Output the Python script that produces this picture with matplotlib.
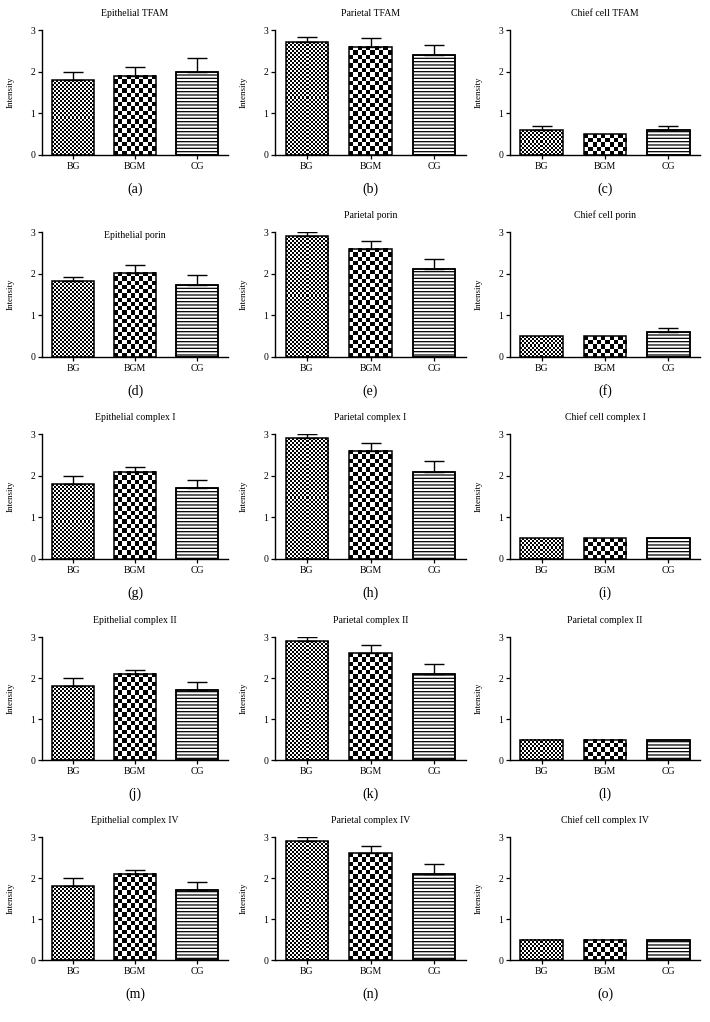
import numpy as np
import matplotlib
matplotlib.use("Agg")
import matplotlib.pyplot as plt

plt.rcParams['font.family'] = ['Liberation Serif', 'DejaVu Serif']
plt.rcParams['hatch.linewidth'] = 0.9

# ---------------- data ----------------
groups = ["BG", "BGM", "CG"]
titles = [
    "Epithelial TFAM", "Parietal TFAM", "Chief cell TFAM",
    "Epithelial porin", "Parietal porin", "Chief cell porin",
    "Epithelial complex I", "Parietal complex I", "Chief cell complex I",
    "Epithelial complex II", "Parietal complex II", "Parietal complex II",
    "Epithelial complex IV", "Parietal complex IV", "Chief cell complex IV",
]
captions = ["(a)", "(b)", "(c)", "(d)", "(e)", "(f)", "(g)", "(h)", "(i)",
            "(j)", "(k)", "(l)", "(m)", "(n)", "(o)"]
means = [
    [1.8, 1.9, 2.0], [2.7, 2.6, 2.4], [0.6, 0.5, 0.6],
    [1.82, 2.02, 1.72], [2.9, 2.6, 2.1], [0.5, 0.5, 0.6],
    [1.8, 2.1, 1.7], [2.9, 2.6, 2.1], [0.5, 0.5, 0.5],
    [1.8, 2.1, 1.7], [2.9, 2.6, 2.1], [0.5, 0.5, 0.5],
    [1.8, 2.1, 1.7], [2.9, 2.6, 2.1], [0.5, 0.5, 0.5],
]
errors = [
    [0.2, 0.2, 0.32], [0.13, 0.2, 0.25], [0.1, 0.0, 0.1],
    [0.1, 0.18, 0.24], [0.1, 0.19, 0.25], [0.0, 0.0, 0.1],
    [0.2, 0.1, 0.2], [0.1, 0.19, 0.25], [0.0, 0.0, 0.0],
    [0.2, 0.1, 0.2], [0.1, 0.2, 0.25], [0.0, 0.0, 0.0],
    [0.2, 0.1, 0.2], [0.1, 0.19, 0.25], [0.0, 0.0, 0.0],
]
yticks = [0, 1, 2, 3]

# ---------------- layout (pixels) ----------------
W, H = 710, 1022
fig = plt.figure(figsize=(W / 100, H / 100), dpi=100)
cols_x = [(42, 228), (275, 466), (510, 700)]
rows_y = [(30, 155), (232, 357), (434, 559), (637, 760), (837, 960)]

# fill style per group: checker cell size in px (None = hatch)
checker_px = [2.0, 4.3, None]


def checker_fill(ax, bar, cell):
    x0, w, h = bar.get_x(), bar.get_width(), bar.get_height()
    if h <= 0:
        return
    p0 = ax.transData.transform((x0, 0))
    p1 = ax.transData.transform((x0 + w, h))
    nx = max(1, int(round((p1[0] - p0[0]) / cell)))
    ny = max(1, int(round((p1[1] - p0[1]) / cell)))
    iy, ix = np.indices((ny, nx))
    board = ((ix + iy) % 2).astype(float)
    ax.imshow(board, extent=[x0, x0 + w, 0, h], origin='lower',
              cmap='gray', vmin=0, vmax=1, interpolation='nearest',
              aspect='auto', zorder=1.5)


for i in range(15):
    r, c = divmod(i, 3)
    xl, xr = cols_x[c]
    yt, yb = rows_y[r]
    ax = fig.add_axes([xl / W, (H - yb) / H, (xr - xl) / W, (yb - yt) / H])
    ax.set_xlim(-0.5, 2.5)
    ax.set_ylim(0, 3)
    x = np.arange(len(groups))
    bars = ax.bar(x, means[i], width=0.67, facecolor='none',
                  edgecolor='black', linewidth=1.1, zorder=2)
    for j, b in enumerate(bars):
        if checker_px[j] is not None:
            checker_fill(ax, b, checker_px[j])
        else:
            b.set_facecolor('white')
            b.set_hatch('-----')
            b.set_zorder(1.6)
            ax.bar(b.get_x() + b.get_width() / 2, b.get_height(),
                   width=b.get_width(), facecolor='none',
                   edgecolor='black', linewidth=1.1, zorder=2)
    err = np.array(errors[i])
    m = np.array(means[i])
    sel = err > 0
    if sel.any():
        ax.errorbar(x[sel], m[sel],
                    yerr=[np.zeros(sel.sum()), err[sel]], fmt='none',
                    ecolor='black', elinewidth=1.0, capsize=7.5,
                    capthick=1.0, zorder=3)
    ax.set_xlim(-0.5, 2.5)
    ax.set_ylim(0, 3)
    for s in ['top', 'right']:
        ax.spines[s].set_visible(False)
    for s in ['left', 'bottom']:
        ax.spines[s].set_linewidth(1.0)
    ax.set_xticks(x)
    ax.set_xticklabels(groups, fontsize=7)
    ax.set_yticks(yticks)
    ax.set_yticklabels([str(t) for t in yticks], fontsize=7)
    ax.tick_params(axis='both', direction='out', length=3, width=0.9, pad=2)
    ax.set_ylabel("Intensity", fontsize=6.5)
    ax.yaxis.set_label_coords(-27 / (xr - xl), 0.5)
    if i == 3:
        ax.text(0.5, 1 - 3 / (yb - yt), titles[i], transform=ax.transAxes,
                ha='center', va='center', fontsize=7)
    else:
        ax.text(0.5, 1 + 17 / (yb - yt), titles[i], transform=ax.transAxes,
                ha='center', va='center', fontsize=7)
    fig.text((xl + xr) / 2 / W, (H - (yb + 34)) / H, captions[i],
             ha='center', va='center', fontsize=10)

fig.savefig("out.png", dpi=100, facecolor='white')
